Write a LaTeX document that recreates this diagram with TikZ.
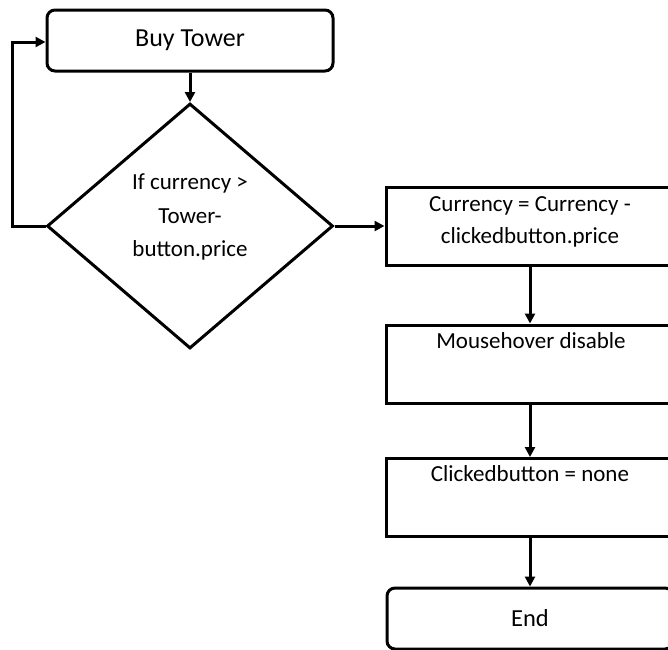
\documentclass[tikz,border=0pt]{standalone}
\usepackage{fontspec}
\setmainfont{Carlito}
\usetikzlibrary{shapes.geometric,arrows.meta}
\begin{document}
\begin{tikzpicture}[x=1pt,y=-1pt,
  every node/.style={font=\fontsize{23}{33}\selectfont, text=black},
  frame/.style={draw=black, line width=3pt, fill=white, inner sep=0pt},
  roundbox/.style={frame, rectangle, rounded corners=8pt, minimum width=286pt, minimum height=61pt},
  stepbox/.style={frame, rectangle, minimum width=288pt, minimum height=78pt},
  decision/.style={frame, diamond, minimum width=286pt, minimum height=245pt, aspect=1.17},
  flow/.style={draw=black, line width=3pt, -{Triangle[length=10pt,width=10pt]}}]
  % page frame
  \useasboundingbox (0,0) rectangle (668,649);
  \fill[white] (0,0) rectangle (668,649);
  \clip (0,0) rectangle (668,649);

  % left column: start and decision
  \node[roundbox, font=\fontsize{26}{33}\selectfont] (buy) at (190,40.5) {Buy Tower};
  \node[decision] (dia) at (190,226) {};
  \node[align=center, font=\fontsize{23}{33.5}\selectfont] (dialabel) at (190,217) {If currency >\\Tower-\\button.price};

  % right column: the purchase steps
  \node[stepbox] (pay) at (530,226) {};
  \node[align=center, font=\fontsize{23}{32}\selectfont] (paylabel) at (530,222) {Currency = Currency -\\clickedbutton.price};
  \node[stepbox] (hover) at (530,364) {};
  \node[anchor=base] (hoverlabel) at (531,348) {Mousehover disable};
  \node[stepbox] (clear) at (530,497.5) {};
  \node[anchor=base] (clearlabel) at (530,481) {Clickedbutton = none};
  \node[roundbox, font=\fontsize{24.5}{33}\selectfont] (end) at (530,618.5) {End};

  % connectors
  \coordinate (loopbot) at (12,226);
  \coordinate (looptop) at (12,42);
  \draw[flow] (buy.south) -- (dia.north);
  \draw[flow, line join=miter] (dia.west) -- (loopbot) -- (looptop) -- (buy.west |- looptop);
  \draw[flow] (dia.east) -- (pay.west);
  \draw[flow] (pay.south) -- (hover.north);
  \draw[flow] (hover.south) -- (clear.north);
  \draw[flow] (clear.south) -- (end.north);
\end{tikzpicture}
\end{document}
